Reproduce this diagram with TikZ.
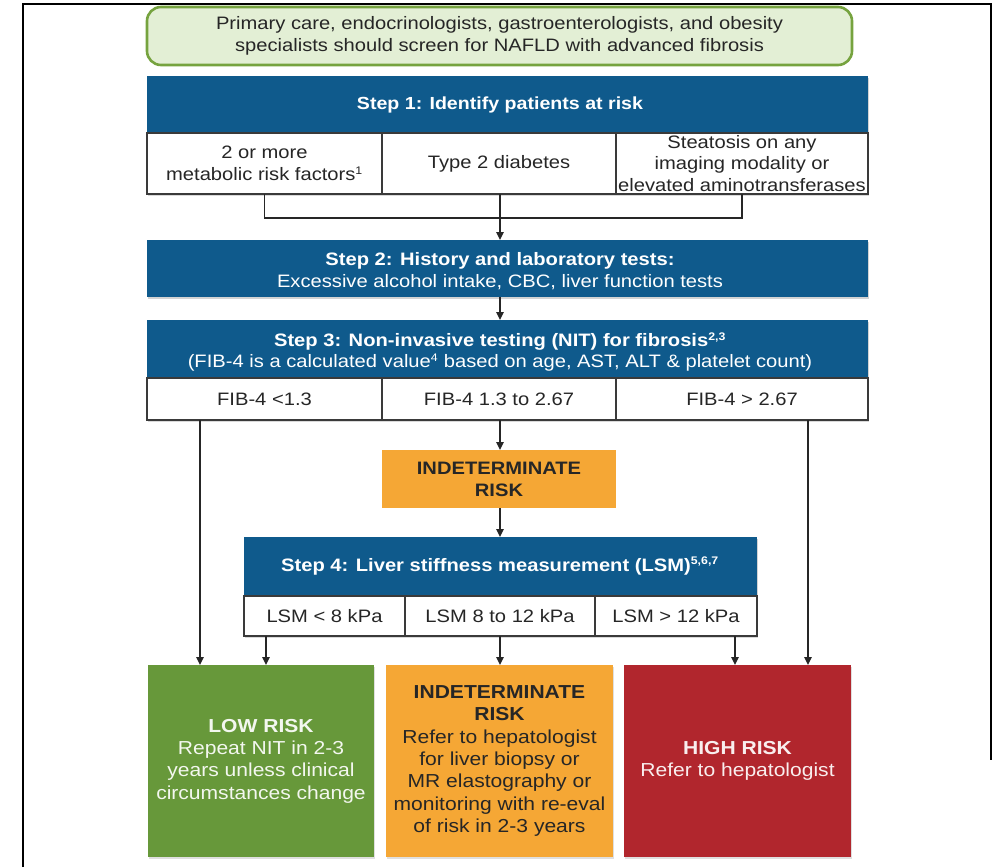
\documentclass[tikz,border=0pt]{standalone}
\usepackage{fontspec}
\setmainfont{Liberation Sans}[FakeStretch=1.12]
\usetikzlibrary{arrows.meta,shadows}

\definecolor{stepblue}{HTML}{0F5A8C}
\definecolor{notefill}{HTML}{E3EFD5}
\definecolor{noteline}{HTML}{76A33F}
\definecolor{lowgreen}{HTML}{67983A}
\definecolor{midorange}{HTML}{F5A735}
\definecolor{highred}{HTML}{B1262D}
\definecolor{cellline}{HTML}{3A3A3A}
\definecolor{ink}{HTML}{262626}

% footnote reference numbers
\newcommand\fnref[1]{\textsuperscript{\fontsize{11}{11}\selectfont #1}}

\begin{document}
\begin{tikzpicture}[x=1pt,y=-1pt,
  base/.style={anchor=north west, inner sep=0pt, outer sep=0pt, align=center,
    font=\fontsize{18}{21.5}\selectfont},
  notebox/.style={base, draw=noteline, line width=2.6pt, fill=notefill,
    rounded corners=14pt, text=ink},
  stepbox/.style={base, fill=stepblue,
    drop shadow={shadow xshift=1pt, shadow yshift=-1.5pt, opacity=0.35}},
  steptext/.style={inner sep=0pt, align=center, text=white,
    font=\fontsize{18}{21.5}\selectfont},
  cell/.style={base, draw=cellline, line width=1.2pt, fill=white, text=ink,
    drop shadow={shadow xshift=1pt, shadow yshift=-1.5pt, opacity=0.3}},
  riskbox/.style={base, text=ink, font=\fontsize{18}{22}\selectfont\bfseries},
  outcome/.style={base, font=\fontsize{18.8}{22.3}\selectfont,
    drop shadow={shadow xshift=1pt, shadow yshift=-1.5pt, opacity=0.25}},
  conn/.style={draw=ink, line width=1.5pt},
  arr/.style={conn, -{Triangle[length=8pt,width=7.5pt]}}
]
\useasboundingbox (0,0) rectangle (1000,867);

% outer frame
\draw[line width=2pt, black] (23,867) -- (23,4) -- (991,4) -- (991,760);

% reference x positions for vertical connectors
\coordinate (mid) at (500,0);
\coordinate (xL) at (200,0);
\coordinate (xl) at (266,0);
\coordinate (xr) at (735,0);
\coordinate (xR) at (808,0);

% screening statement
\node[notebox, minimum width=705, minimum height=58] (note) at (147,7)
  {Primary care, endocrinologists, gastroenterologists, and obesity\\
   specialists should screen for NAFLD with advanced fibrosis};

% step 1
\node[stepbox, minimum width=721, minimum height=57] (s1) at (147,76) {};
\node[steptext, font=\fontsize{17.5}{21.5}\selectfont\bfseries] (s1t) at (500,105)
  {Step 1: Identify patients at risk};
\node[cell, minimum width=235, minimum height=61] (c1) at (147,133)
  {2 or more\\metabolic risk factors\fnref{1}};
\node[cell, minimum width=234, minimum height=61] (c2) at (382,133)
  {Type 2 diabetes};
\node[cell, minimum width=252, minimum height=61] (c3) at (616,133)
  {Steatosis on any\\imaging modality or\\elevated aminotransferases};

% step 2
\node[stepbox, minimum width=721, minimum height=57] (s2) at (147,240) {};
\node[steptext] (s2t) at (500,271)
  {\textbf{Step 2: History and laboratory tests:}\\
   Excessive alcohol intake, CBC, liver function tests};

% bracket joining the three risk groups
\coordinate (bk) at (0,218);
\draw[conn] (c1.south) -- (c1.south |- bk) -- (c3.south |- bk) -- (c3.south);
\draw[arr] (c2.south -| mid) -- (s2.north -| mid);

% step 3
\node[stepbox, minimum width=721, minimum height=58] (s3) at (147,320) {};
\node[steptext] (s3t) at (500,352)
  {\textbf{Step 3: Non-invasive testing (NIT) for fibrosis\fnref{2,3}}\\
   (FIB-4 is a calculated value\fnref{4} based on age, AST, ALT \& platelet count)};
\draw[arr] (s2.south -| mid) -- (s3.north -| mid);
\node[cell, minimum width=235, minimum height=42] (f1) at (147,378) {FIB-4 <1.3};
\node[cell, minimum width=234, minimum height=42] (f2) at (382,378) {FIB-4 1.3 to 2.67};
\node[cell, minimum width=252, minimum height=42] (f3) at (616,378) {FIB-4 > 2.67};

% indeterminate FIB-4 result
\node[riskbox, fill=midorange, minimum width=234, minimum height=58] (ind) at (382,450)
  {INDETERMINATE\\RISK};
\draw[arr] (f2.south -| mid) -- (ind.north -| mid);

% step 4
\node[stepbox, minimum width=513, minimum height=59] (s4) at (244,537) {};
\node[steptext, font=\fontsize{18}{21.5}\selectfont\bfseries] (s4t) at (500,566)
  {Step 4: Liver stiffness measurement (LSM)\fnref{5,6,7}};
\draw[arr] (ind.south -| mid) -- (s4.north -| mid);
\node[cell, minimum width=161, minimum height=40] (l1) at (244,596) {LSM < 8 kPa};
\node[cell, minimum width=190, minimum height=40] (l2) at (405,596) {LSM 8 to 12 kPa};
\node[cell, minimum width=162, minimum height=40] (l3) at (595,596) {LSM > 12 kPa};

% outcomes
\node[outcome, fill=lowgreen, text=white!92!lowgreen, minimum width=226, minimum height=192] (low) at (148,665)
  {\textbf{LOW RISK}\\Repeat NIT in 2-3\\years unless clinical\\circumstances change};
\node[outcome, fill=midorange, text=ink, minimum width=227, minimum height=192] (midrisk) at (386,665)
  {\textbf{INDETERMINATE}\\\textbf{RISK}\\Refer to hepatologist\\for liver biopsy or\\MR elastography or\\monitoring with re-eval\\of risk in 2-3 years};
\node[outcome, fill=highred, text=white!92!highred, minimum width=227, minimum height=192] (high) at (624,665)
  {\textbf{HIGH RISK}\\Refer to hepatologist};

% connectors into the outcomes
\draw[arr] (f1.south -| xL) -- (low.north -| xL);
\draw[arr] (l1.south -| xl) -- (low.north -| xl);
\draw[arr] (l2.south -| mid) -- (midrisk.north -| mid);
\draw[arr] (l3.south -| xr) -- (high.north -| xr);
\draw[arr] (f3.south -| xR) -- (high.north -| xR);
\end{tikzpicture}
\end{document}
